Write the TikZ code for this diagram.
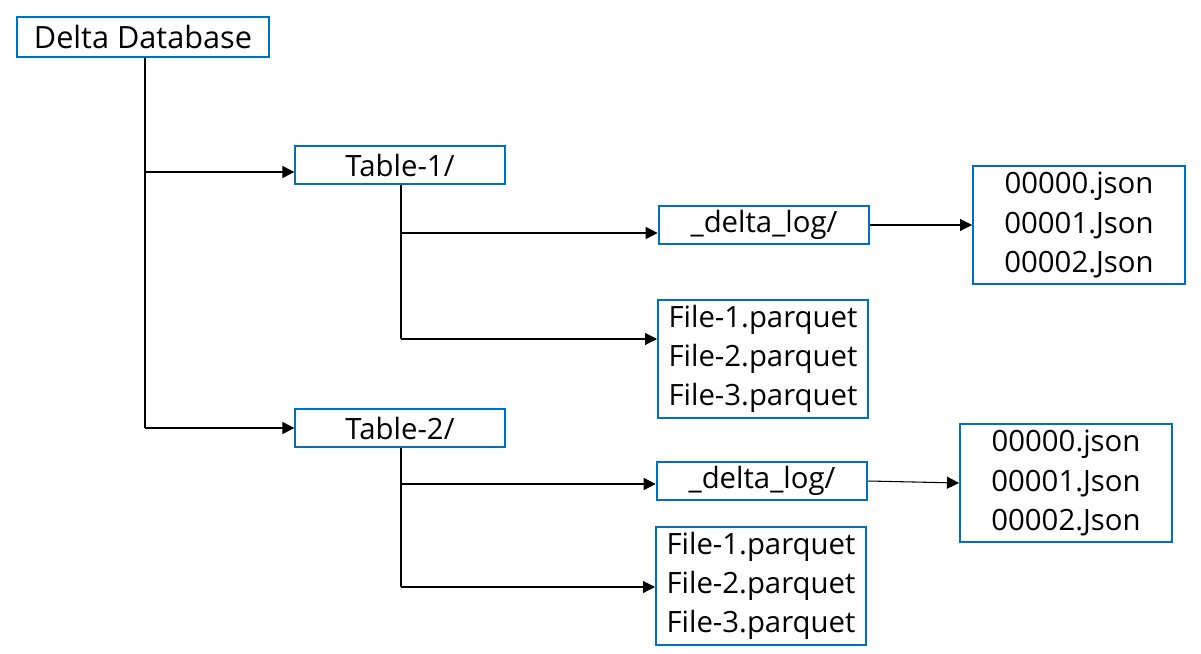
\documentclass[tikz,border=0pt]{standalone}
\usepackage{fontspec}
\setmainfont{Open Sans}
\usetikzlibrary{arrows.meta}
\definecolor{boxblue}{RGB}{0,112,192}
\tikzset{
  box/.style={draw=boxblue, line width=1.5pt, inner sep=0pt, align=center,
    font=\fontsize{22}{29.5}\selectfont},
  conn/.style={-{Triangle[length=9pt,width=9pt]}, line width=0.8pt},
}
\begin{document}
\begin{tikzpicture}[x=0.75pt,y=-0.75pt]
    \useasboundingbox (0,0) rectangle (1201,653);
    % folders
    \node[box, minimum width=189pt, minimum height=30pt,
      font=\fontsize{23}{26}\selectfont] (db) at (143,37) {Delta Database};
    \node[box, minimum width=157pt, minimum height=28.5pt] (t1) at (400,165) {Table-1/};
    \node[box, minimum width=157pt, minimum height=28.5pt] (t2) at (400,428) {Table-2/};
    \node[box, minimum width=158pt, minimum height=29pt] (log1) at (764,225) {\_delta\_log/};
    \node[box, minimum width=158pt, minimum height=29pt] (log2) at (762,481) {\_delta\_log/};
    % files
    \node[box, minimum width=157.5pt, minimum height=88.5pt] (pq1) at (763,359)
      {File-1.parquet\\File-2.parquet\\File-3.parquet};
    \node[box, minimum width=157.5pt, minimum height=88.5pt] (pq2) at (761,586)
      {File-1.parquet\\File-2.parquet\\File-3.parquet};
    \node[box, minimum width=159pt, minimum height=89pt] (js1) at (1079,225)
      {00000.json\\00001.Json\\00002.Json};
    \node[box, minimum width=159pt, minimum height=89pt] (js2) at (1066,483)
      {00000.json\\00001.Json\\00002.Json};
    % branch points
    \coordinate (b1) at (145,172);
    \coordinate (b2) at (145,428);
    \coordinate (c1) at (401,233);
    \coordinate (c2) at (401,339);
    \coordinate (d1) at (401,484);
    \coordinate (d2) at (401,587);
    % tree lines
    \draw[line width=0.8pt] (db.south -| b1) -- (b2);
    \draw[conn] (b1) -- (b1 -| t1.west);
    \draw[conn] (b2) -- (b2 -| t2.west);
    \draw[line width=0.8pt] (t1.south -| c1) -- (c2);
    \draw[conn] (c1) -- (c1 -| log1.west);
    \draw[conn] (c2) -- (c2 -| pq1.west);
    \draw[line width=0.8pt] (t2.south -| d1) -- (d2);
    \draw[conn] (d1) -- (d1 -| log2.west);
    \draw[conn] (d2) -- (d2 -| pq2.west);
    \draw[conn] (log1) -- (js1);
    \draw[conn] (log2.east) -- (js2.west);
\end{tikzpicture}
\end{document}
